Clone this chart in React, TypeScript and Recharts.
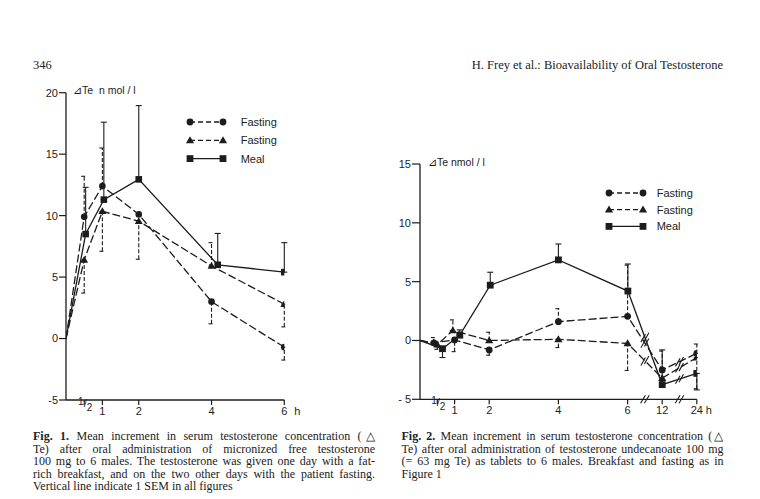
import { ErrorBar, Legend, Line, LineChart, ReferenceLine, XAxis, YAxis } from 'recharts';

type Shape = 'circle' | 'triangle' | 'square';

// Fig. 1: micronized free testosterone, hours after the dose
const fig1Hours = [0, 0.5, 1, 2, 4, 6];
const fig1MealHours = [0, 0.54, 1.04, 2, 4.17, 6];
const fig1FastA = [0, 9.9, 12.4, 10.1, 3.0, -0.7];
const fig1FastASem = [null, 13.2, 15.5, null, 1.2, -1.75];
const fig1FastB = [0, 6.4, 10.35, 9.55, 5.9, 2.8];
const fig1FastBSem = [null, 3.7, 7.1, 6.45, 7.8, 0.95];
const fig1Meal = [0, 8.5, 11.3, 12.95, 6.0, 5.4];
const fig1MealSem = [null, 12.3, 17.6, 18.95, 8.55, 7.8];
const fig1TickHours = [0.5, 1, 2, 4, 6];
const fig1TickTe = [-5, 0, 5, 10, 15, 20];

// Fig. 2: testosterone undecanoate, axis broken after 6 h
const fig2FastAHours = [0, 0.4, 1, 2, 4, 6, 12, 24];
const fig2FastBHours = [0, 0.5, 0.95, 2, 4, 6, 12, 24];
const fig2MealHours = [0, 0.65, 1.15, 2.03, 4, 6.05, 12, 24];
const fig2FastA = [0, -0.2, 0.05, -0.8, 1.6, 2.05, -2.5, -1.1];
const fig2FastASem = [null, 0.25, -0.95, -1.25, 2.7, 6.4, -0.9, -0.3];
const fig2FastB = [0, -0.35, 0.85, 0, 0.1, -0.25, -3.2, -1.45];
const fig2FastBSem = [null, -0.75, 1.75, 0.7, -0.6, -2.55, null, -4.1];
const fig2Meal = [0, -0.7, 0.45, 4.7, 6.85, 4.2, -3.75, -2.8];
const fig2MealSem = [null, -1.45, 0.9, 5.8, 8.2, 6.5, -0.8, -4.2];
const fig2TickHours = [0.5, 1, 2, 4, 6, 12, 24];
const fig2TickTe = [-5, 0, 5, 10, 15];
const fig2BreakHours = [9, 18];

const seriesNames = ['Fasting', 'Fasting', 'Meal'];

const INK = '#1c1c1c';
const SANS = '"Liberation Sans", Arial, sans-serif';
const SERIF = '"Liberation Serif", "Times New Roman", serif';
const styles: { shape: Shape; dash?: string }[] = [
  { shape: 'circle', dash: '8 3' },
  { shape: 'triangle', dash: '8 3' },
  { shape: 'square' },
];

// broken time axis: 0-6 h linear, then one unit for 6-12 h and one for 12-24 h
const hourPos = (h: number) => (h <= 6 ? h : h <= 12 ? 6 + (h - 6) / 6 : 7 + (h - 12) / 12);
const posHour = (p: number) => (p <= 6 ? p : p <= 7 ? 6 + (p - 6) * 6 : 12 + (p - 7) * 12);

type Row = { x: number; y: number; err: number[] | null };

function buildRows(hours: number[], te: number[], semEnd: (number | null)[], toPos = (h: number) => h): Row[] {
  return hours.map((h, i) => {
    const v = te[i];
    const end = semEnd[i];
    const err = end == null ? null : end >= v ? [0, end - v] : [v - end, 0];
    return { x: toPos(h), y: v, err };
  });
}

function valueAt(rows: Row[], p: number) {
  for (let i = 0; i < rows.length - 1; i++) {
    const a = rows[i];
    const b = rows[i + 1];
    if (p >= a.x && p <= b.x) return a.y + ((b.y - a.y) * (p - a.x)) / (b.x - a.x);
  }
  return rows[rows.length - 1].y;
}

const fig1Series = [
  buildRows(fig1Hours, fig1FastA, fig1FastASem),
  buildRows(fig1Hours, fig1FastB, fig1FastBSem),
  buildRows(fig1MealHours, fig1Meal, fig1MealSem),
];
const fig2Series = [
  buildRows(fig2FastAHours, fig2FastA, fig2FastASem, hourPos),
  buildRows(fig2FastBHours, fig2FastB, fig2FastBSem, hourPos),
  buildRows(fig2MealHours, fig2Meal, fig2MealSem, hourPos),
];

function Marker({ shape, cx, cy, s }: { shape: Shape; cx: number; cy: number; s: number }) {
  if (shape === 'circle') return <circle cx={cx} cy={cy} r={s} fill={INK} />;
  if (shape === 'square') return <rect x={cx - s} y={cy - s} width={s * 2} height={s * 2} fill={INK} />;
  return (
    <polygon
      points={`${cx},${cy - s * 1.2} ${cx - s * 1.2},${cy + s * 0.85} ${cx + s * 1.2},${cy + s * 0.85}`}
      fill={INK}
    />
  );
}

function dotFor(shape: Shape, s: number) {
  return (p: any) => {
    if (p.payload?.x === 0 || p.cx == null) return <g key={`d${p.index}`} />;
    return (
      <g key={`d${p.index}`}>
        <Marker shape={shape} cx={p.cx} cy={p.cy} s={s} />
      </g>
    );
  };
}

function KeyBox({ gap, lineLen, textGap }: { gap: number; lineLen: number; textGap: number }) {
  return (
    <svg width={lineLen + textGap + 60} height={gap * 2 + 16} style={{ display: 'block' }}>
      {styles.map((st, i) => {
        const y = 8 + i * gap;
        return (
          <g key={i}>
            <line x1={5} x2={5 + lineLen} y1={y} y2={y} stroke={INK} strokeWidth={1.3} strokeDasharray={st.dash ? '5 3' : undefined} />
            <Marker shape={st.shape} cx={5} cy={y} s={3.4} />
            <Marker shape={st.shape} cx={5 + lineLen} cy={y} s={3.4} />
            <text x={5 + lineLen + textGap} y={y} dy="0.36em" fontSize={11} fontFamily={SANS} fill={INK}>
              {seriesNames[i]}
            </text>
          </g>
        );
      })}
    </svg>
  );
}

function HourTick({ x, y, payload, label, last, hOffset }: any) {
  const v = payload.value;
  const text = label(v);
  return (
    <g transform={`translate(${x},${y})`}>
      {text === '1/2' ? (
        <text x={1} y={0} dy="0.71em" textAnchor="middle" fontSize={11} fontFamily={SANS} fill={INK}>
          <tspan fontSize={10} dy="-2">1</tspan>
          <tspan dy="2">/</tspan>
          <tspan fontSize={10} dy="4">2</tspan>
        </text>
      ) : (
        <text x={0} y={0} dy="0.71em" textAnchor="middle" fontSize={11} fontFamily={SANS} fill={INK}>
          {text}
        </text>
      )}
      {v === last && (
        <text x={hOffset} y={0} dy="0.71em" textAnchor="middle" fontSize={11} fontFamily={SANS} fill={INK}>
          h
        </text>
      )}
    </g>
  );
}

const fig1Label = (v: number) => (v === 0.5 ? '1/2' : String(v));
const fig2Label = (v: number) => {
  const h = Math.round(posHour(v) * 2) / 2;
  return h === 0.5 ? '1/2' : String(h);
};

function Caption({ left, width, lines, bold }: { left: number; width: number; lines: string[]; bold: string }) {
  return (
    <div style={{ position: 'absolute', left, top: 430, width, fontFamily: SERIF, fontSize: 12, lineHeight: '12.5px', color: '#222' }}>
      {lines.map((ln, i) => {
        const isLast = i === lines.length - 1;
        return (
          <div key={i} style={{ whiteSpace: 'nowrap', textAlign: isLast ? 'left' : 'justify', textAlignLast: isLast ? 'left' : 'justify' }}>
            {i === 0 ? (
              <>
                <b>{bold}</b> {ln}
              </>
            ) : (
              ln
            )}
          </div>
        );
      })}
    </div>
  );
}

const fig1Caption = [
  'Mean increment in serum testosterone concentration (\u25B3',
  'Te) after oral administration of micronized free testosterone',
  '100 mg to 6 males. The testosterone was given one day with a fat-',
  'rich breakfast, and on the two other days with the patient fasting.',
  'Vertical line indicate 1 SEM in all figures',
];
const fig2Caption = [
  'Mean increment in serum testosterone concentration (\u25B3',
  'Te) after oral administration of testosterone undecanoate 100 mg',
  '(=  63 mg Te) as tablets to 6 males. Breakfast and fasting as in',
  'Figure 1',
];

export default function App() {
  const tickText = { fontSize: 11, fill: INK, fontFamily: SANS };
  const slash = (px: number, py: number, sx: number, sy: number, key: string) => (
    <ReferenceLine
      key={key}
      segment={[
        { x: px - sx, y: py - sy },
        { x: px + sx, y: py + sy },
      ]}
      stroke={INK}
      strokeWidth={1.1}
      ifOverflow="visible"
    />
  );
  // x: 34.6 px per unit, y: 11.77 px per unit on fig. 2
  const breakMarks: JSX.Element[] = [];
  fig2BreakHours.forEach((bh) => {
    const p = hourPos(bh);
    breakMarks.push(
      <ReferenceLine
        key={`gap${bh}`}
        segment={[
          { x: p - 0.06, y: -5 },
          { x: p + 0.06, y: -5 },
        ]}
        stroke="#fff"
        strokeWidth={4}
        ifOverflow="visible"
      />,
    );
    [-0.055, 0.055].forEach((o, k) => breakMarks.push(slash(p + o, -5, 0.07, 0.34, `ax${bh}${k}`)));
    fig2Series.forEach((rows, si) => {
      const y = valueAt(rows, p);
      [-0.05, 0.05].forEach((o, k) => breakMarks.push(slash(p + o, y + o * 1.2, 0.065, 0.34, `ln${bh}${si}${k}`)));
    });
  });

  return (
    <div style={{ position: 'absolute', left: 0, top: 0, width: 760, height: 499, background: '#fff', overflow: 'hidden' }}>
      <div style={{ position: 'absolute', left: 33, top: 58, fontFamily: SERIF, fontSize: 12.5, color: '#222' }}>346</div>
      <div style={{ position: 'absolute', left: 380, top: 58, width: 343, textAlign: 'right', fontFamily: SERIF, fontSize: 12.5, color: '#222' }}>
        H. Frey et al.: Bioavailability of Oral Testosterone
      </div>

      <div style={{ position: 'absolute', left: 73, top: 84, fontFamily: SANS, fontSize: 10.5, color: INK, whiteSpace: 'pre' }}>
        {'\u22BFTe  n mol / l'}
      </div>
      <div style={{ position: 'absolute', left: 428, top: 156, fontFamily: SANS, fontSize: 10.5, color: INK, whiteSpace: 'pre' }}>
        {'\u22BFTe nmol / l'}
      </div>

      <div style={{ position: 'absolute', left: 0, top: 80 }}>
        <LineChart width={320} height={350} margin={{ top: 12.7, right: 35.7, bottom: 0, left: 26 }}>
          <XAxis
            type="number"
            dataKey="x"
            domain={[0, 6]}
            ticks={fig1TickHours}
            interval={0}
            allowDataOverflow
            height={30}
            tickSize={5}
            tickMargin={2}
            axisLine={{ stroke: INK, strokeWidth: 1.3 }}
            tickLine={{ stroke: INK, strokeWidth: 1.2 }}
            tick={<HourTick label={fig1Label} last={6} hOffset={13} />}
          />
          <YAxis
            type="number"
            domain={[-5, 20]}
            ticks={fig1TickTe}
            interval={0}
            allowDataOverflow
            width={40}
            tickSize={7}
            tickMargin={1}
            axisLine={{ stroke: INK, strokeWidth: 1.3 }}
            tickLine={{ stroke: INK, strokeWidth: 1.2 }}
            tick={tickText}
          />
          {fig1Series.map((rows, i) => (
            <Line
              key={i}
              data={rows}
              dataKey="y"
              name={seriesNames[i]}
              type="linear"
              stroke={INK}
              strokeWidth={1.3}
              strokeDasharray={styles[i].dash}
              dot={dotFor(styles[i].shape, 3.3)}
              activeDot={false}
              isAnimationActive={false}
            >
              <ErrorBar dataKey="err" direction="y" width={3} stroke={INK} strokeWidth={1.1} strokeDasharray={styles[i].dash ? '4 2' : undefined} isAnimationActive={false} />
            </Line>
          ))}
          <Legend
            layout="vertical"
            align="center"
            verticalAlign="middle"
            wrapperStyle={{ left: 185, top: 34, width: 'auto' }}
            content={() => <KeyBox gap={18.3} lineLen={33} textGap={17.7} />}
          />
        </LineChart>
      </div>

      <div style={{ position: 'absolute', left: 380, top: 150 }}>
        <LineChart width={340} height={280} margin={{ top: 14, right: 23.2, bottom: 0.7, left: 8 }}>
          <XAxis
            type="number"
            dataKey="x"
            domain={[0, 8]}
            ticks={fig2TickHours.map(hourPos)}
            interval={0}
            allowDataOverflow
            height={30}
            tickSize={5}
            tickMargin={2}
            axisLine={{ stroke: INK, strokeWidth: 1.3 }}
            tickLine={{ stroke: INK, strokeWidth: 1.2 }}
            tick={<HourTick label={fig2Label} last={8} hOffset={12} />}
          />
          <YAxis
            type="number"
            domain={[-5, 15]}
            ticks={fig2TickTe}
            interval={0}
            allowDataOverflow
            width={32}
            tickSize={8}
            tickMargin={1}
            axisLine={{ stroke: INK, strokeWidth: 1.3 }}
            tickLine={{ stroke: INK, strokeWidth: 1.2 }}
            tick={tickText}
            tickFormatter={(v: number) => (v < 0 ? `- ${Math.abs(v)}` : String(v))}
          />
          {fig2Series.map((rows, i) => (
            <Line
              key={i}
              data={rows}
              dataKey="y"
              name={seriesNames[i]}
              type="linear"
              stroke={INK}
              strokeWidth={1.3}
              strokeDasharray={styles[i].dash}
              dot={dotFor(styles[i].shape, 3.4)}
              activeDot={false}
              isAnimationActive={false}
            >
              <ErrorBar dataKey="err" direction="y" width={3} stroke={INK} strokeWidth={1.1} strokeDasharray={styles[i].dash ? '4 2' : undefined} isAnimationActive={false} />
            </Line>
          ))}
          {breakMarks}
          <Legend
            layout="vertical"
            align="center"
            verticalAlign="middle"
            wrapperStyle={{ left: 224, top: 35, width: 'auto' }}
            content={() => <KeyBox gap={16.7} lineLen={34} textGap={13.7} />}
          />
        </LineChart>
      </div>

      <Caption left={33} width={342} lines={fig1Caption} bold="Fig. 1." />
      <Caption left={401.5} width={322} lines={fig2Caption} bold="Fig. 2." />
    </div>
  );
}
